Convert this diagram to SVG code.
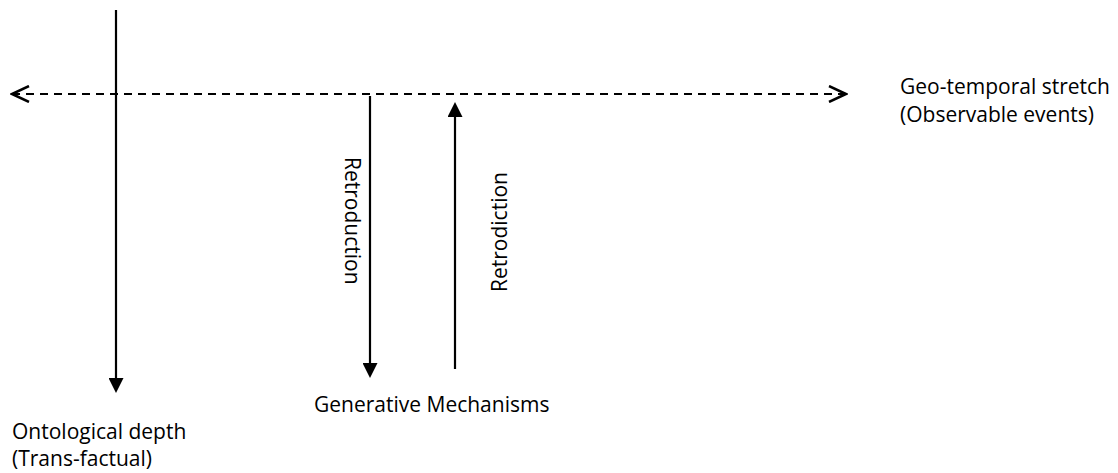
<svg xmlns="http://www.w3.org/2000/svg" width="1118" height="473" viewBox="0 0 1118 473">
  <style>
    text { font-family: "Open Sans", "Liberation Sans", sans-serif; font-size: 21px; fill: #000; }
    .line { stroke: #000; stroke-width: 2.2; fill: none; }
    .dash { stroke: #000; stroke-width: 2.2; stroke-dasharray: 8 6; fill: none; }
  </style>
  <defs>
    <!-- filled triangle head; the line stops at the head's base -->
    <marker id="solid" viewBox="0 0 15 15" refX="0" refY="7.5" markerWidth="15" markerHeight="15" markerUnits="userSpaceOnUse" orient="auto">
      <path d="M0,0 L15,7.5 L0,15 Z" fill="#000"/>
    </marker>
    <!-- open chevron head for the dashed axis -->
    <marker id="open" viewBox="0 0 20 18" refX="18" refY="9" markerWidth="20" markerHeight="18" markerUnits="userSpaceOnUse" orient="auto-start-reverse">
      <path d="M1,1 L18,9 L1,17" fill="none" stroke="#000" stroke-width="2.5"/>
    </marker>
  </defs>
  <rect width="1118" height="473" fill="#fff"/>
  <g id="connectors">
    <line class="dash" x1="12" y1="94" x2="846" y2="94" marker-start="url(#open)" marker-end="url(#open)"/>
    <line class="line" x1="116" y1="10" x2="116" y2="378" marker-end="url(#solid)"/>
    <line class="line" x1="370" y1="96" x2="370" y2="363" marker-end="url(#solid)"/>
    <line class="line" x1="455" y1="369" x2="455" y2="117" marker-end="url(#solid)"/>
  </g>
  <g id="geo-temporal">
    <text x="900" y="94">Geo-temporal stretch</text>
    <text x="900" y="122">(Observable events)</text>
  </g>
  <g id="ontological">
    <text x="12" y="439">Ontological depth</text>
    <text x="12" y="466">(Trans-factual)</text>
  </g>
  <g id="generative">
    <text x="314" y="412">Generative Mechanisms</text>
  </g>
  <g id="retroduction">
    <text transform="translate(345,157) rotate(90)">Retroduction</text>
  </g>
  <g id="retrodiction">
    <text transform="translate(507,292) rotate(-90)">Retrodiction</text>
  </g>
</svg>
